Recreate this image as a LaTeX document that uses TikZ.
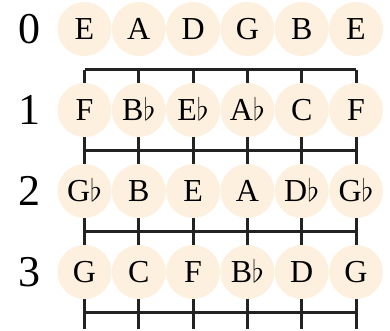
\documentclass[tikz,border=0pt]{standalone}
\usepackage{fontspec}
\usepackage{graphicx}
\setmainfont{Liberation Serif}
\usetikzlibrary{calc}
\definecolor{notefill}{HTML}{FDF0DE}
\definecolor{fretink}{HTML}{222222}
\newcommand{\fl}{\scalebox{1.246}{\fontsize{24.88}{24.88}\selectfont$\flat$}}
\tikzset{
  note/.style={circle, fill=notefill, minimum size=54pt, inner sep=0pt,
    text height=21.2pt, text depth=0pt, font=\fontsize{32}{32}\selectfont},
  rowlabel/.style={inner sep=0pt, text height=29pt, text depth=0pt,
    font=\fontsize{44}{44}\selectfont},
  fretline/.style={line width=3pt, fretink},
  strline/.style={line width=3pt, fretink},
}

\begin{document}
\begin{tikzpicture}[x=1pt, y=-1pt]
  \useasboundingbox (0,0) rectangle (390,330);
  % strings
  \foreach \c in {0,...,5}{
    \coordinate (s\c-top) at (84.5+54.3*\c, 69.5);
    \coordinate (s\c-bot) at (84.5+54.3*\c, 329);
    \draw[strline] (s\c-top) -- (s\c-bot);
  }
  % frets
  \foreach \f in {0,...,3}{
    \coordinate (f\f-l) at (84.5, 69.5+81*\f);
    \coordinate (f\f-r) at (84.5+54.3*5, 69.5+81*\f);
    \draw[fretline] (f\f-l) -- (f\f-r);
  }
  % notes per fret
  \foreach \notes [count=\r from 0] in {
      {E,A,D,G,B,E},
      {F,B\fl,E\fl,A\fl,C,F},
      {G\fl,B,E,A,D\fl,G\fl},
      {G,C,F,B\fl,D,G}}{
    \node[rowlabel] (lbl\r) at (29, 29+81*\r) {\r};
    \foreach \n [count=\c from 0] in \notes
      \node[note] (n\r-\c) at (84.5+54.3*\c, 29+81*\r) {\n};
  }
\end{tikzpicture}
\end{document}
